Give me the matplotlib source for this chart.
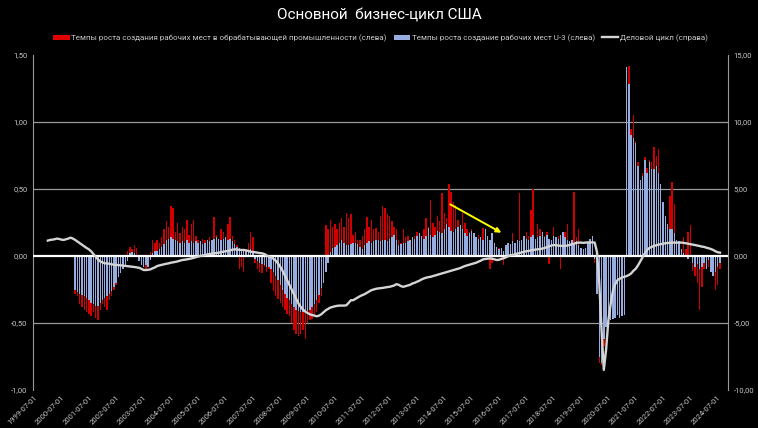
import numpy as np
import pandas as pd
import matplotlib
matplotlib.use('Agg')
import matplotlib.pyplot as plt
from matplotlib.patches import Patch
from matplotlib.lines import Line2D

plt.rcParams['font.family'] = ['Roboto', 'DejaVu Sans']

# monthly data, bars from 2001-01, line from 2000-01 (both end 2024-08)
red_mfg = [
    -0.28, -0.30, -0.36, -0.38, -0.40, -0.42, -0.43, -0.45, -0.42, -0.46, -0.48, -0.40,  # 2001
    -0.36, -0.38, -0.40, -0.33, -0.30, -0.25, -0.22, -0.16, -0.12, -0.08, -0.05, 0.04,  # 2002
    0.07, 0.05, 0.08, 0.06, -0.02, -0.04, -0.06, -0.10, -0.08, 0.03, 0.12, 0.10,  # 2003
    0.12, 0.10, 0.14, 0.20, 0.26, 0.22, 0.37, 0.36, 0.18, 0.25, 0.17, 0.22,  # 2004
    0.20, 0.27, 0.16, 0.24, 0.27, 0.15, 0.12, 0.10, 0.13, 0.12, 0.11, 0.14,  # 2005
    0.12, 0.29, 0.16, 0.13, 0.20, 0.18, 0.14, 0.24, 0.29, 0.15, 0.12, 0.08,  # 2006
    -0.10, -0.08, -0.12, 0.05, 0.10, 0.18, 0.14, -0.05, -0.10, -0.12, -0.13, -0.08,  # 2007
    -0.12, -0.10, -0.20, -0.26, -0.30, -0.32, -0.35, -0.38, -0.40, -0.43, -0.45, -0.50,  # 2008
    -0.55, -0.58, -0.60, -0.58, -0.55, -0.62, -0.50, -0.48, -0.47, -0.45, -0.42, -0.35,  # 2009
    -0.30, -0.20, 0.23, 0.20, 0.27, 0.22, 0.24, 0.20, 0.25, 0.28, 0.22, 0.32,  # 2010
    0.28, 0.31, 0.16, 0.18, 0.12, 0.12, 0.15, 0.20, 0.29, 0.22, 0.27, 0.20,  # 2011
    0.21, 0.18, 0.30, 0.37, 0.36, 0.31, 0.30, 0.26, 0.22, 0.20, 0.12, 0.10,  # 2012
    0.20, 0.14, 0.15, 0.12, 0.10, 0.15, 0.18, 0.17, 0.14, 0.20, 0.28, 0.22,  # 2013
    0.42, 0.25, 0.22, 0.30, 0.26, 0.47, 0.32, 0.28, 0.54, 0.48, 0.40, 0.38,  # 2014
    0.27, 0.22, 0.32, 0.25, 0.20, 0.18, 0.20, 0.15, 0.12, 0.16, 0.10, 0.21,  # 2015
    0.12, 0.08, -0.10, -0.05, 0.08, 0.05, 0.06, -0.02, -0.07, 0.03, 0.10, 0.06,  # 2016
    0.17, 0.08, 0.12, 0.47, 0.10, 0.14, 0.18, 0.15, 0.34, 0.50, 0.12, 0.24,  # 2017
    0.20, 0.18, 0.15, 0.18, -0.06, 0.12, 0.22, 0.10, 0.15, -0.10, 0.12, 0.18,  # 2018
    0.24, 0.10, 0.08, 0.48, 0.14, 0.20, 0.05, 0.03, 0.02, 0.06, 0.08, 0.10,  # 2019
    -0.05, -0.25, -0.80, -0.81, -0.67, -0.50, -0.45, -0.42, -0.40, -0.42, -0.40, -0.41,  # 2020
    -0.30, -0.32, 1.38, 1.42, 0.95, 1.05, 0.86, 0.70, 0.55, 0.62, 0.74, 0.66,  # 2021
    0.72, 0.70, 0.81, 0.75, 0.80, 0.50, 0.38, 0.28, 0.22, 0.45, 0.55, 0.39,  # 2022
    0.10, 0.05, 0.02, 0.14, 0.05, 0.18, 0.23, -0.11, -0.15, -0.20, -0.40, -0.23,  # 2023
    -0.10, -0.05, -0.08, -0.06, -0.13, -0.25, -0.22, -0.10,  # 2024
]

blue_u3 = [
    -0.25, -0.27, -0.28, -0.29, -0.30, -0.31, -0.33, -0.35, -0.36, -0.37, -0.37, -0.35,
    -0.33, -0.31, -0.30, -0.28, -0.26, -0.23, -0.20, -0.16, -0.13, -0.10, -0.07, -0.04,
    0.02, 0.03, 0.02, 0.01, -0.04, -0.07, -0.08, -0.07, -0.08, -0.03, 0.02, 0.04,
    0.04, 0.05, 0.07, 0.09, 0.12, 0.13, 0.14, 0.13, 0.12, 0.11, 0.10, 0.11,
    0.10, 0.12, 0.10, 0.11, 0.10, 0.11, 0.10, 0.11, 0.09, 0.10, 0.12, 0.11,
    0.12, 0.13, 0.14, 0.13, 0.12, 0.13, 0.14, 0.12, 0.13, 0.11, 0.09, 0.07,
    0.06, 0.05, 0.05, 0.04, 0.03, 0.05, 0.02, -0.02, -0.04, -0.05, -0.06, -0.07,
    -0.08, -0.08, -0.10, -0.12, -0.15, -0.18, -0.22, -0.25, -0.28, -0.31, -0.33, -0.36,
    -0.38, -0.40, -0.41, -0.42, -0.42, -0.42, -0.41, -0.40, -0.38, -0.36, -0.33, -0.29,
    -0.24, -0.20, -0.12, -0.05, 0.03, 0.06, 0.07, 0.08, 0.10, 0.12, 0.10, 0.08,
    0.08, 0.09, 0.10, 0.10, 0.09, 0.07, 0.05, 0.08, 0.10, 0.11, 0.10, 0.11,
    0.12, 0.12, 0.11, 0.12, 0.12, 0.11, 0.13, 0.14, 0.16, 0.12, 0.08, 0.09,
    0.10, 0.10, 0.11, 0.12, 0.14, 0.13, 0.15, 0.17, 0.15, 0.13, 0.15, 0.21,
    0.16, 0.14, 0.16, 0.19, 0.18, 0.17, 0.20, 0.24, 0.22, 0.19, 0.18, 0.20,
    0.22, 0.23, 0.20, 0.17, 0.15, 0.17, 0.19, 0.17, 0.14, 0.13, 0.14, 0.12,
    0.20, 0.15, 0.12, 0.17, 0.10, 0.07, 0.05, 0.06, 0.04, 0.08, 0.10, 0.09,
    0.11, 0.10, 0.12, 0.11, 0.12, 0.15, 0.13, 0.12, 0.14, 0.16, 0.13, 0.14,
    0.15, 0.18, 0.14, 0.16, 0.13, 0.12, 0.15, 0.14, 0.13, 0.16, 0.18, 0.14,
    0.12, 0.11, 0.12, 0.10, 0.11, 0.08, 0.06, 0.05, 0.06, 0.10, 0.13, 0.15,
    -0.02, -0.28, -0.75, -0.80, -0.62, -0.53, -0.50, -0.48, -0.47, -0.46, -0.44, -0.46,
    -0.45, -0.44, 1.41, 1.28, 0.90, 0.88, 0.84, 0.67, 0.57, 0.60, 0.72, 0.62,
    0.70, 0.65, 0.65, 0.67, 0.62, 0.54, 0.40, 0.30, 0.24, 0.20, 0.20, 0.17,
    0.12, 0.11, 0.05, 0.02, 0.01, -0.02, 0.00, -0.05, -0.08, -0.06, -0.10, -0.08,
    -0.05, -0.10, -0.03, -0.12, -0.15, -0.12, -0.08, -0.05,
]

business_cycle = [
    1.15, 1.20, 1.22, 1.25, 1.30, 1.27, 1.22, 1.20, 1.25, 1.30, 1.37, 1.30,  # 2000
    1.20, 1.08, 0.97, 0.85, 0.72, 0.60, 0.50, 0.35, 0.15, -0.05, -0.25, -0.40,
    -0.48, -0.55, -0.55, -0.58, -0.62, -0.65, -0.67, -0.68, -0.70, -0.72, -0.74, -0.76,
    -0.78, -0.80, -0.82, -0.85, -0.88, -0.95, -1.04, -1.05, -1.03, -1.00, -0.92, -0.85,
    -0.75, -0.70, -0.66, -0.62, -0.58, -0.55, -0.50, -0.47, -0.44, -0.40, -0.35, -0.30,
    -0.28, -0.25, -0.22, -0.18, -0.14, -0.08, -0.04, 0.00, 0.04, 0.08, 0.12, 0.15,
    0.18, 0.20, 0.22, 0.25, 0.28, 0.32, 0.35, 0.38, 0.42, 0.47, 0.50, 0.48,
    0.46, 0.45, 0.45, 0.42, 0.38, 0.32, 0.30, 0.28, 0.25, 0.22, 0.20, 0.15,
    0.05, -0.05, -0.10, -0.20, -0.35, -0.55, -0.80, -1.10, -1.45, -1.80, -2.15, -2.50,
    -2.85, -3.20, -3.55, -3.80, -4.00, -4.15, -4.25, -4.35, -4.40, -4.45, -4.50, -4.45,
    -4.35, -4.20, -4.05, -3.95, -3.85, -3.80, -3.75, -3.72, -3.70, -3.70, -3.70, -3.68,
    -3.50, -3.30, -3.30, -3.20, -3.10, -3.00, -2.92, -2.85, -2.75, -2.65, -2.55, -2.50,
    -2.45, -2.42, -2.40, -2.38, -2.35, -2.32, -2.30, -2.25, -2.20, -2.10, -2.15, -2.25,
    -2.30, -2.25, -2.20, -2.15, -2.05, -2.00, -1.92, -1.85, -1.75, -1.68, -1.62, -1.58,
    -1.55, -1.50, -1.45, -1.40, -1.35, -1.30, -1.25, -1.20, -1.15, -1.10, -1.05, -1.00,
    -0.95, -0.90, -0.82, -0.75, -0.70, -0.65, -0.60, -0.55, -0.50, -0.42, -0.35, -0.25,
    -0.22, -0.20, -0.18, -0.20, -0.25, -0.30, -0.28, -0.22, -0.17, -0.10, -0.02, 0.07,
    0.07, 0.12, 0.18, 0.22, 0.27, 0.32, 0.35, 0.38, 0.42, 0.45, 0.48, 0.50,
    0.52, 0.55, 0.60, 0.66, 0.72, 0.78, 0.82, 0.80, 0.78, 0.76, 0.75, 0.75,
    0.78, 0.82, 0.88, 0.92, 0.98, 1.00, 1.00, 0.98, 1.00, 1.02, 1.00, 1.02,
    1.00, 0.30, -2.00, -5.50, -8.50, -7.00, -4.80, -3.60, -2.60, -2.10, -1.80, -1.70,
    -1.60, -1.55, -1.50, -1.42, -1.30, -1.10, -0.95, -0.70, -0.40, -0.10, 0.20, 0.45,
    0.60, 0.68, 0.75, 0.80, 0.85, 0.88, 0.92, 0.95, 0.97, 0.98, 1.00, 1.00,
    1.00, 1.00, 1.00, 0.98, 0.95, 0.92, 0.88, 0.85, 0.82, 0.78, 0.75, 0.70,
    0.68, 0.62, 0.58, 0.52, 0.45, 0.35, 0.28, 0.25,  # 2024
]

tick_labels = [f'{y}-07-01' for y in range(1999, 2025)]

# ---- positions: category axis starting 1999-07
def month_pos(dates):
    return (dates.year - 1999) * 12 + dates.month - 7

bar_dates = pd.date_range('2001-01-01', periods=len(red_mfg), freq='MS')
line_dates = pd.date_range('2000-01-01', periods=len(business_cycle), freq='MS')
xb = month_pos(bar_dates)
xl = month_pos(line_dates)
xt = np.arange(len(tick_labels)) * 12

RED = '#d00000'
BLUE = '#97ade0'
LINE = '#d4d4d4'
TXT = '#c8c8c8'

fig = plt.figure(figsize=(7.58, 4.28), dpi=100, facecolor='black')
ax = fig.add_axes([33 / 758, 1 - 390 / 428, 695 / 758, 335 / 428])
ax.set_facecolor('black')
ax2 = ax.twinx()

# grid lines (not at the edges)
for g in [1.0, 0.5, -0.5]:
    ax.axhline(g, color='#9a9a9a', lw=0.9, zorder=0)

ax.bar(xb, red_mfg, width=0.62, color=RED, zorder=2)
ax.bar(xb, blue_u3, width=0.62, color=BLUE, zorder=3)
ax.axhline(0, color='white', lw=1.6, zorder=4)

ax2.plot(xl, business_cycle, color=LINE, lw=1.7, zorder=5)

ax.set_xlim(-0.5, 304.5)
ax.set_ylim(-1.0, 1.5)
ax2.set_ylim(-10, 15)

ax.set_yticks([1.5, 1.0, 0.5, 0.0, -0.5, -1.0])
ax.set_yticklabels([f'{v:.2f}'.replace('.', ',') for v in [1.5, 1.0, 0.5, 0.0, -0.5, -1.0]])
ax2.set_yticks([15, 10, 5, 0, -5, -10])
ax2.set_yticklabels([f'{v:.2f}'.replace('.', ',') for v in [15, 10, 5, 0, -5, -10]])

ax.set_xticks(xt)
ax.set_xticklabels(tick_labels, rotation=45, ha='right', va='top',
                   rotation_mode='anchor')

for a in (ax, ax2):
    for s in a.spines.values():
        s.set_visible(False)
    a.tick_params(colors=TXT, labelsize=5.5, length=0, pad=4)
ax.tick_params(axis='x', pad=3)
ax.spines['left'].set_visible(True)
ax.spines['left'].set_color('#9a9a9a')
ax2.spines['right'].set_visible(True)
ax2.spines['right'].set_color('#9a9a9a')

# yellow arrow annotation
ARROW_FROM = (181.6, 0.395)
ARROW_TO = (206.1, 0.164)
ax.annotate('', xy=ARROW_TO, xytext=ARROW_FROM,
            arrowprops=dict(arrowstyle='-|>', color='#ffff00', lw=1.4,
                            mutation_scale=7), zorder=6)

fig.text(0.5, 1 - 16 / 428, 'Основной  бизнес-цикл США', color='white',
         fontsize=11, ha='center', va='center')

handles = [
    Patch(facecolor='#e00000', edgecolor='none'),
    Patch(facecolor=BLUE, edgecolor='none'),
    Line2D([0], [0], color=LINE, lw=1.7),
]
labels = [
    'Темпы роста создания рабочих мест в обрабатывающей промышленности (слева)',
    'Темпы роста создание рабочих мест U-3 (слева)',
    'Деловой цикл (справа)',
]
leg = fig.legend(handles, labels, loc='center', bbox_to_anchor=(0.502, 1 - 38 / 428),
                 ncol=3, frameon=False, fontsize=5.8, handlelength=2.0,
                 handleheight=0.6, handletextpad=0.2, columnspacing=0.9)
for t in leg.get_texts():
    t.set_color(TXT)

fig.savefig('out.png', dpi=100, facecolor='black')
